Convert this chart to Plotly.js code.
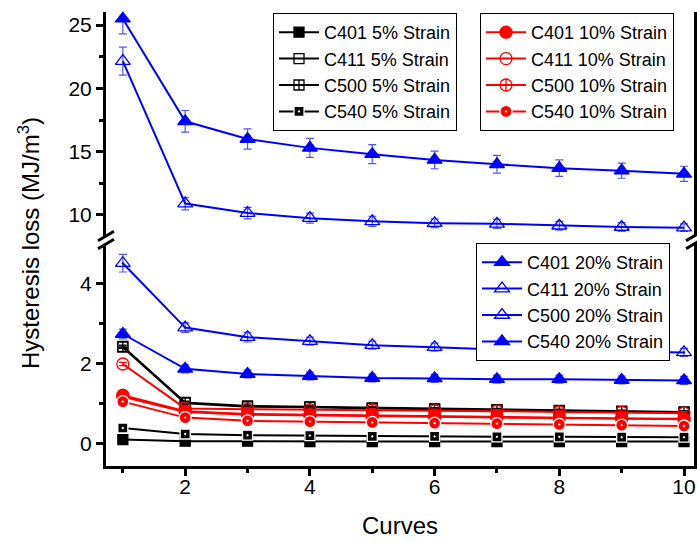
<!DOCTYPE html>
<html><head><meta charset="utf-8">
<script src="https://cdn.plot.ly/plotly-3.0.1.min.js"></script>
<style>html,body{margin:0;padding:0;background:#fff}#chart{width:697px;height:541px}</style>
</head><body><div id="chart"></div>
<script>
// ---- data ----
const curves = [1, 2, 3, 4, 5, 6, 7, 8, 9, 10];
const xTickVals = [2, 4, 6, 8, 10];
const yLowTicks = [0, 2, 4];
const yHighTicks = [10, 15, 20, 25];

const names5 = ["C401 5% Strain", "C411 5% Strain", "C500 5% Strain", "C540 5% Strain"];
const names10 = ["C401 10% Strain", "C411 10% Strain", "C500 10% Strain", "C540 10% Strain"];
const names20 = ["C401 20% Strain", "C411 20% Strain", "C500 20% Strain", "C540 20% Strain"];

const c401_5 = [0.09, 0.05, 0.05, 0.04, 0.04, 0.04, 0.04, 0.04, 0.04, 0.04];
const c411_5 = [2.42, 1.02, 0.93, 0.91, 0.88, 0.86, 0.84, 0.82, 0.80, 0.78];
const c500_5 = [2.40, 1.00, 0.91, 0.90, 0.87, 0.85, 0.83, 0.81, 0.79, 0.77];
const c540_5 = [0.38, 0.23, 0.20, 0.19, 0.17, 0.17, 0.16, 0.16, 0.15, 0.15];
const err5 = [0.03, 0.03, 0.03, 0.03, 0.03, 0.03, 0.03, 0.03, 0.03, 0.03];

const c401_10 = [1.20, 0.80, 0.73, 0.71, 0.69, 0.67, 0.66, 0.64, 0.62, 0.61];
const c411_10 = [1.98, 0.87, 0.85, 0.84, 0.83, 0.81, 0.80, 0.78, 0.77, 0.75];
const c500_10 = [1.16, 0.78, 0.71, 0.69, 0.67, 0.66, 0.64, 0.63, 0.61, 0.60];
const c540_10 = [1.04, 0.64, 0.56, 0.54, 0.52, 0.50, 0.49, 0.47, 0.45, 0.43];
const err10 = [0.04, 0.04, 0.04, 0.04, 0.04, 0.04, 0.04, 0.04, 0.04, 0.04];

const c401_20 = [25.5, 17.4, 16.0, 15.3, 14.8, 14.35, 14.0, 13.7, 13.5, 13.25];
const e401_20 = [1.2, 0.85, 0.8, 0.75, 0.75, 0.7, 0.7, 0.65, 0.6, 0.6];
const c411_20 = [22.15, 10.9, 10.15, 9.75, 9.5, 9.35, 9.3, 9.15, 9.05, 9.0];
const e411_20 = [1.1, 0.5, 0.45, 0.4, 0.4, 0.35, 0.35, 0.35, 0.35, 0.3];
const c500_20 = [4.5, 2.89, 2.65, 2.55, 2.45, 2.4, 2.34, 2.32, 2.29, 2.27];
const e500_20 = [0.22, 0.12, 0.12, 0.1, 0.1, 0.1, 0.1, 0.1, 0.1, 0.1];
const c540_20 = [2.73, 1.86, 1.73, 1.68, 1.63, 1.62, 1.6, 1.6, 1.58, 1.57];
const e540_20 = [0.12, 0.1, 0.1, 0.1, 0.1, 0.1, 0.1, 0.1, 0.1, 0.1];

// ---- build ----
const FONT = "Liberation Sans, Arial, sans-serif";
function mk(name, y, err, color, errColor, symbol, yaxis, legend, size, lineColor) {
  return {
    type: "scatter", mode: "lines+markers", x: curves, y: y, name: name,
    yaxis: yaxis, legend: legend, cliponaxis: false,
    line: {color: color, width: 2},
    marker: {symbol: symbol, size: size, color: color,
             line: {color: lineColor || color, width: 1.3}},
    error_y: {type: "data", array: err, visible: true, color: errColor, thickness: 1.2, width: 4}
  };
}
const K = "#000000", R = "#ff0000", B = "#0000ff";
const EB = "rgba(40,40,255,0.8)";
const traces = [
  mk(names5[0], c401_5, err5, K, K, "square", "y", "legend", 10),
  mk(names5[1], c411_5, err5, K, K, "square-open", "y", "legend", 10),
  mk(names5[2], c500_5, err5, K, K, "square-cross-open", "y", "legend", 10),
  mk(names5[3], c540_5, err5, K, K, "square-dot", "y", "legend", 10, "#ffffff"),
  mk(names10[0], c401_10, err10, R, R, "circle", "y", "legend2", 12),
  mk(names10[1], c411_10, err10, R, R, "circle-open", "y", "legend2", 12),
  mk(names10[2], c500_10, err10, R, R, "circle-cross-open", "y", "legend2", 12),
  mk(names10[3], c540_10, err10, R, R, "circle-dot", "y", "legend2", 12, "#ffffff"),
  mk(names20[0], c401_20, e401_20, B, EB, "triangle-up", "y2", "legend3", 13),
  mk(names20[1], c411_20, e411_20, B, EB, "triangle-up-open", "y2", "legend3", 13),
  mk(names20[2], c500_20, e500_20, B, EB, "triangle-up-open-dot", "y", "legend3", 13),
  mk(names20[3], c540_20, e540_20, B, EB, "triangle-up", "y", "legend3", 13)
];

// pixel geometry helpers (plot area: left 106, right 694, top 12, bottom 466)
const PL = 106, PR = 694, PT = 12, PB = 466;
const px = v => (v - PL) / (PR - PL);
const py = v => (PB - v) / (PB - PT);

const axisCommon = {
  showline: true, linecolor: "#000", linewidth: 3, ticks: "outside", ticklen: 7,
  tickwidth: 3, tickcolor: "#000", showgrid: false, zeroline: false,
  tickfont: {family: FONT, size: 21, color: "#000"}
};

function breakMark(cx, cy) {
  return {type: "line", xref: "paper", yref: "paper", layer: "above",
    x0: px(cx - 8), y0: py(cy + 4.8), x1: px(cx + 8), y1: py(cy - 4.8),
    line: {color: "#000", width: 3}};
}

const legendCommon = {bgcolor: "#fff", bordercolor: "#000", borderwidth: 1,
  font: {family: FONT, size: 18, color: "#000"}, xanchor: "left", yanchor: "top",
  tracegroupgap: 0, itemwidth: 40};

const layout = {
  width: 697, height: 541, paper_bgcolor: "#fff", plot_bgcolor: "#fff",
  margin: {l: PL, r: 697 - PR, t: PT, b: 541 - PB},
  font: {family: FONT, color: "#000"},
  showlegend: true,
  xaxis: Object.assign({}, axisCommon, {
    range: [0.73, 10.16], tickvals: xTickVals, anchor: "y", ticklabelstandoff: -7,
    minor: {dtick: 1, tick0: 0, ticks: "outside", ticklen: 4, tickwidth: 3, tickcolor: "#000"},
    title: {text: "Curves", font: {family: FONT, size: 24, color: "#000"}, standoff: 20}
  }),
  xaxis2: {range: [0.73, 10.16], anchor: "y2", side: "top", showline: true, linecolor: "#000",
    linewidth: 3, ticks: "outside", ticklen: 3, tickwidth: 1.5, dtick: 1, tick0: 0,
    showticklabels: false, showgrid: false, zeroline: false},
  yaxis: Object.assign({}, axisCommon, {
    domain: [0, py(244)], range: [-0.57, 4.98], tickvals: yLowTicks, anchor: "x", mirror: true,
    minor: {tickvals: [1, 3], ticks: "outside", ticklen: 4, tickwidth: 3, tickcolor: "#000"}
  }),
  yaxis2: Object.assign({}, axisCommon, {
    domain: [py(236), 1], range: [8.34, 26.03], tickvals: yHighTicks, anchor: "x", mirror: true,
    minor: {tickvals: [12.5, 17.5, 22.5], ticks: "outside", ticklen: 4, tickwidth: 3, tickcolor: "#000"}
  }),
  legend: Object.assign({}, legendCommon, {x: px(273), y: py(13)}),
  legend2: Object.assign({}, legendCommon, {x: px(480), y: py(13)}),
  legend3: Object.assign({}, legendCommon, {x: px(476), y: py(243)}),
  shapes: [breakMark(PL, 244), breakMark(PL, 236), breakMark(PR, 244), breakMark(PR, 236)],
  annotations: [{
    text: "Hysteresis loss (MJ/m<sup>3</sup>)", textangle: -90, xref: "paper", yref: "paper",
    x: 0, y: py(243), xshift: -77, xanchor: "center", yanchor: "middle", showarrow: false,
    font: {family: FONT, size: 24, color: "#000"}
  }]
};

Plotly.newPlot("chart", traces, layout, {staticPlot: true, displayModeBar: false});
</script>
</body></html>
